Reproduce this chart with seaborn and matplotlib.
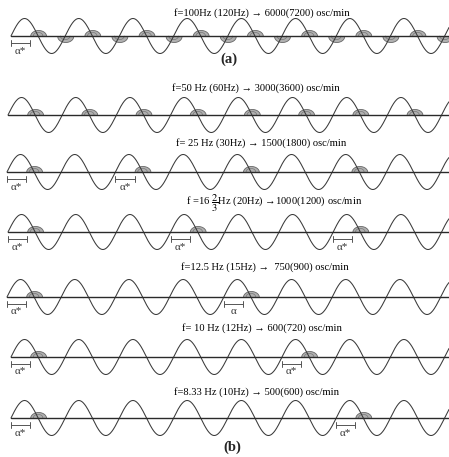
import numpy as np
import pandas as pd
import matplotlib
matplotlib.use("Agg")
import matplotlib.pyplot as plt
import seaborn as sns

sns.set_theme(style="white")
plt.rcParams["font.family"] = ["Liberation Serif", "DejaVu Serif"]
plt.rcParams["mathtext.fontset"] = "stix"

# --- data (pixel units of the original picture) ---
labels = [
    "f=100Hz (120Hz) \u2192 6000(7200) osc/min",
    "f=50 Hz (60Hz) \u2192 3000(3600) osc/min",
    "f= 25 Hz (30Hz) \u2192 1500(1800) osc/min",
    "f =16 $\\dfrac{2}{3}$Hz (20Hz) \u21921000(1200) osc/min",
    "f=12.5 Hz (15Hz) \u2192  750(900) osc/min",
    "f= 10 Hz (12Hz) \u2192 600(720) osc/min",
    "f=8.33 Hz (10Hz) \u2192 500(600) osc/min",
]
label_x = [262, 256, 261, 274, 265, 262, 257]
label_y = [13, 88, 143, 203, 267, 328, 392]
axis_y = [36, 115, 172, 232, 297, 357, 418]
wave_x0 = [11, 8, 7, 8, 7, 11, 11]
bump_step = [0.5, 1, 2, 3, 4, 5, 6]      # spacing of shaded humps, in periods
bump_count = [16, 8, 4, 3, 2, 2, 2]
bracket_count = [1, 0, 2, 3, 2, 2, 2]
bracket_text = [["α*"], [], ["α*", "α*"], ["α*", "α*", "α*"],
                ["α*", "α"], ["α*", "α*"], ["α*", "α*"]]
period = 54.2
amp = 17.5
x_end = 449

W, H = 449, 457
fig = plt.figure(figsize=(W / 100, H / 100), dpi=100)
ax = fig.add_axes([0, 0, 1, 1])
ax.set_xlim(0, W)
ax.set_ylim(H, 0)
ax.axis("off")

# waves
frames = []
for i in range(len(axis_y)):
    xs = np.linspace(wave_x0[i], x_end, 900)
    ys = axis_y[i] - amp * np.sin(2 * np.pi * (xs - wave_x0[i]) / period)
    frames.append(pd.DataFrame({"x": xs, "y": ys, "row": i}))
waves = pd.concat(frames, ignore_index=True)
sns.lineplot(data=waves, x="x", y="y", units="row", estimator=None, sort=False,
             color="#3a3a3a", linewidth=0.75, ax=ax)

# base lines
n_rows = len(axis_y)
base = pd.DataFrame({"x": list(map(float, wave_x0)) + [float(x_end)] * n_rows,
                     "y": axis_y * 2, "row": list(range(n_rows)) * 2})
sns.lineplot(data=base, x="x", y="y", units="row", estimator=None,
             color="#2a2a2a", linewidth=1.0, ax=ax)

# shaded humps
hw, hh = 8.0, 6.0
for i in range(n_rows):
    for k in range(bump_count[i]):
        cx = wave_x0[i] + period / 2 + k * bump_step[i] * period
        sign = -1 if (bump_step[i] == 0.5 and k % 2 == 1) else 1
        t = np.linspace(-hw, hw, 60)
        top = axis_y[i] - sign * hh * np.sqrt(np.clip(1 - (t / hw) ** 2, 0, 1))
        ax.fill_between(cx + t, axis_y[i], top, facecolor="#b0b0b0",
                        edgecolor="#666666", linewidth=0.6, zorder=1)
        ti = np.linspace(-hw * 0.6, hw * 0.6, 40)
        inner = axis_y[i] - sign * hh * 0.6 * np.sqrt(np.clip(1 - (ti / (hw * 0.6)) ** 2, 0, 1))
        ax.plot(cx + ti, inner, color="#777777", linewidth=0.5, zorder=1)

# alpha brackets
for i in range(n_rows):
    for j in range(bracket_count[i]):
        cx = wave_x0[i] + period / 2 + j * bump_step[i] * period
        xa, xb = cx - period / 2, cx - hw
        yb = axis_y[i] + 7
        ax.plot([xa, xb], [yb, yb], color="#555555", linewidth=0.7)
        ax.plot([xa, xa], [yb - 3, yb + 3], color="#555555", linewidth=0.7)
        ax.plot([xb, xb], [yb - 3, yb + 3], color="#555555", linewidth=0.7)
        ax.text((xa + xb) / 2, yb + 8, bracket_text[i][j], ha="center", va="center",
                fontsize=8, color="#333333")

for i in range(len(labels)):
    ax.text(label_x[i], label_y[i], labels[i], ha="center", va="center",
            fontsize=7.6, color="black")

ax.text(229, 59, "(a)", ha="center", va="center", fontsize=10.5, fontweight="bold")
ax.text(232, 447, "(b)", ha="center", va="center", fontsize=10.5, fontweight="bold")

fig.savefig("out.png", dpi=100)
